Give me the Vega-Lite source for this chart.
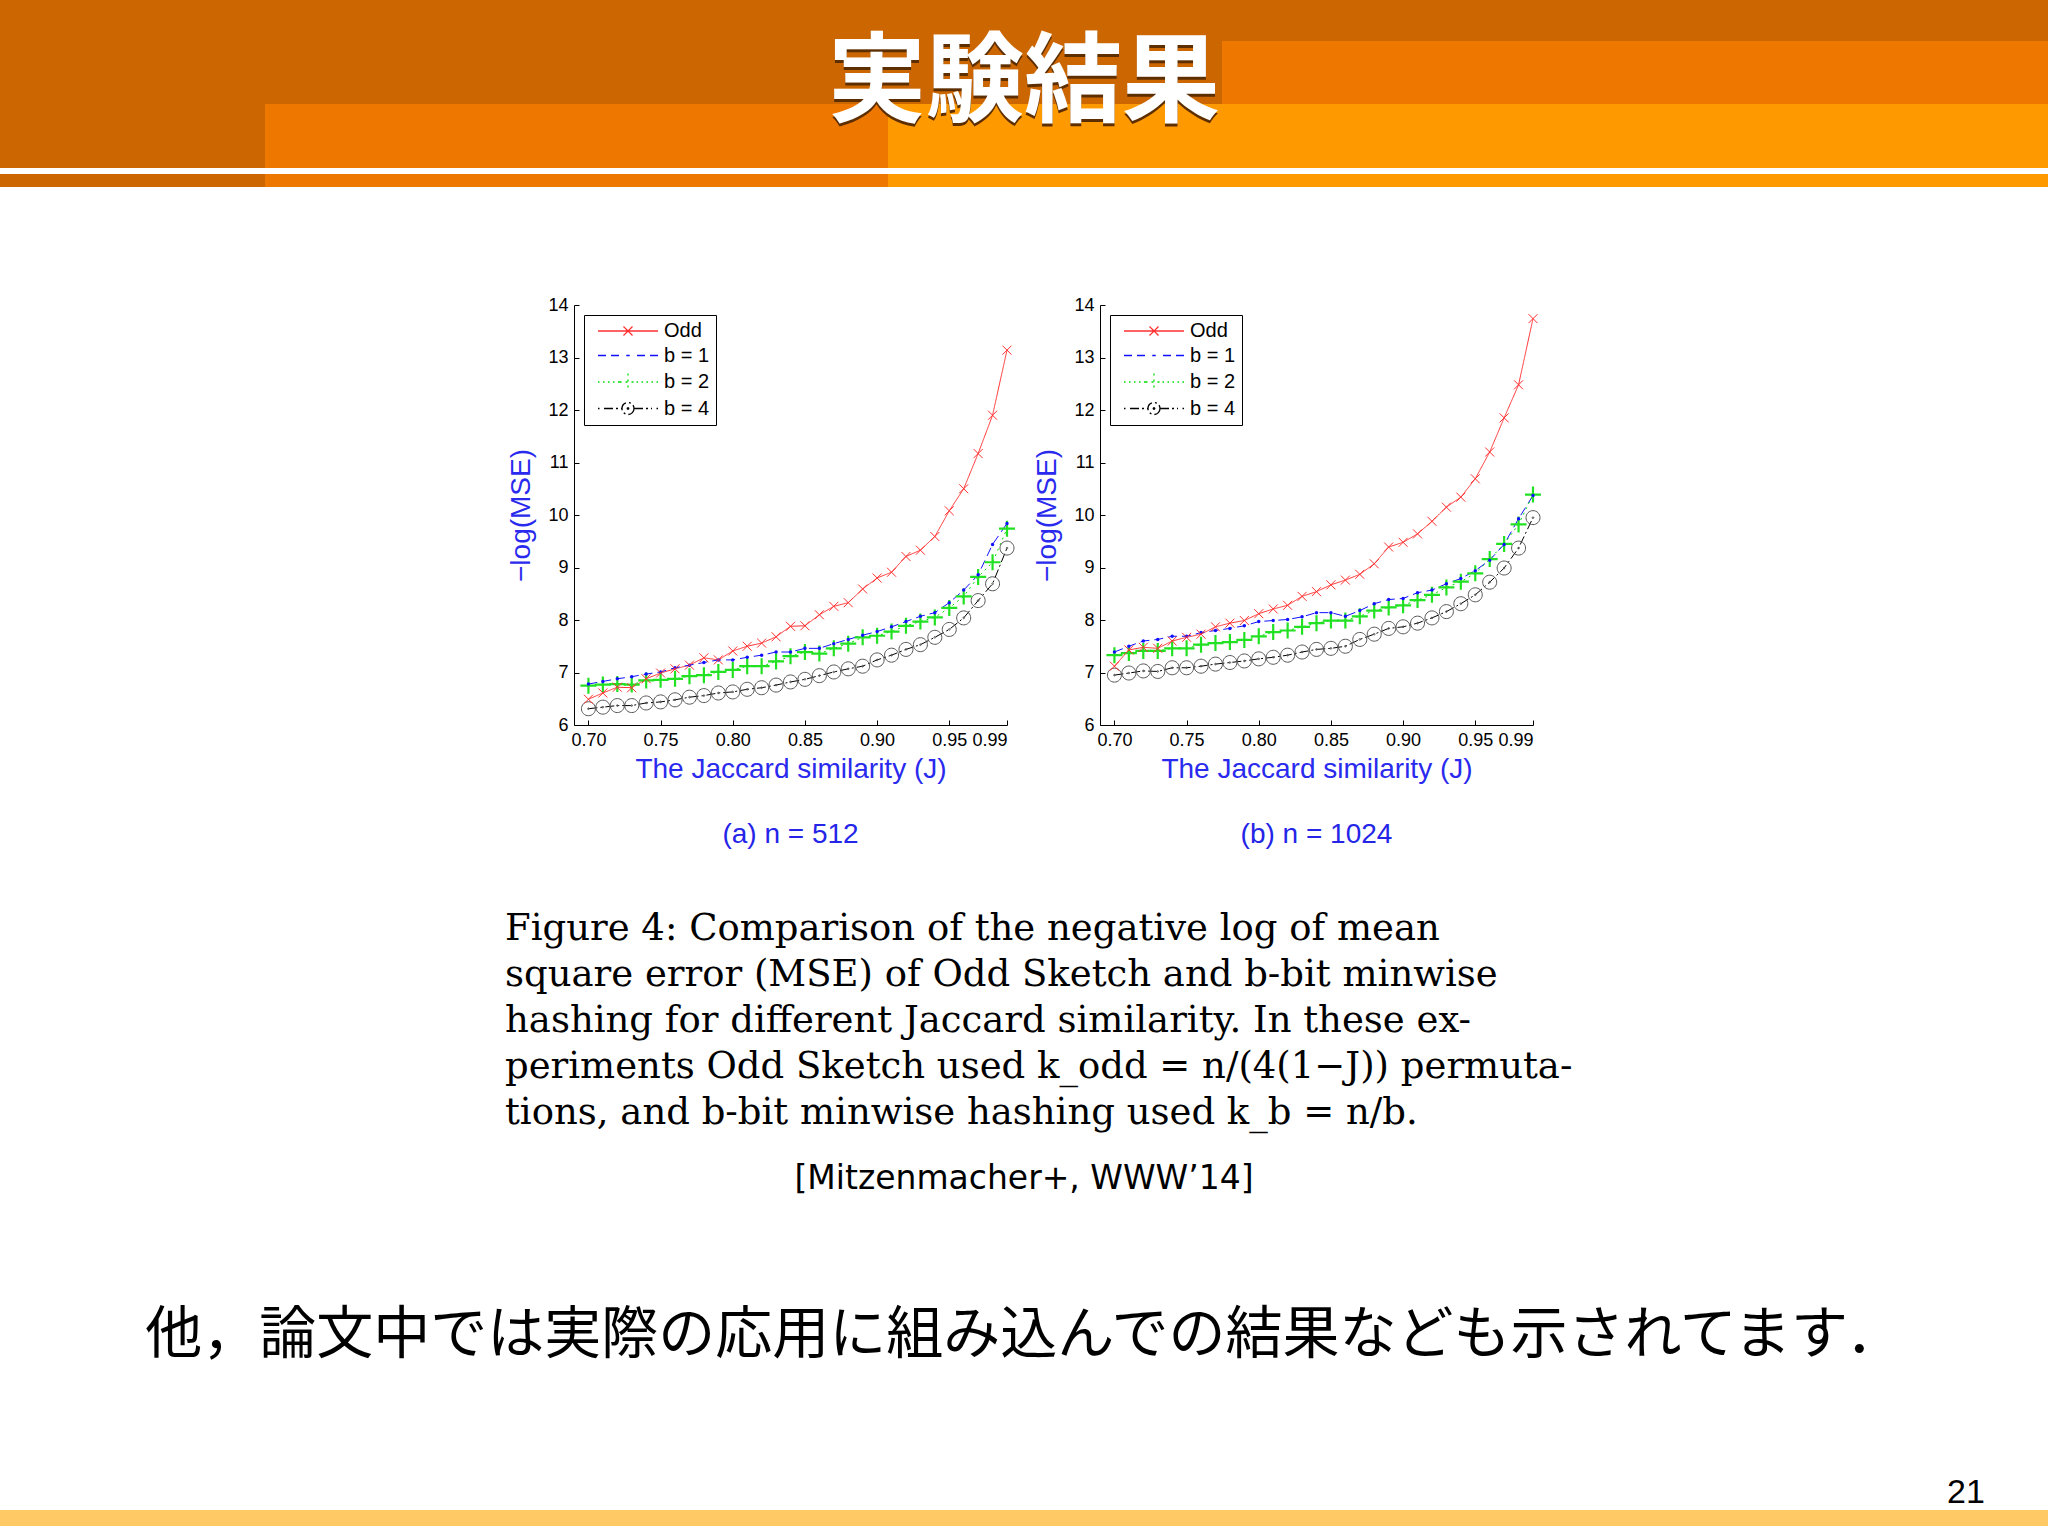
{
  "$schema": "https://vega.github.io/schema/vega-lite/v6.json",
  "background": "white",
  "padding": 0,
  "title": {"text": "実験結果", "subtitle": "実験結果", "anchor": "middle", "frame": "bounds", "orient": "top", "offset": -141, "baseline": "top", "font": "Noto Sans CJK JP", "fontSize": 98, "fontWeight": "bold", "color": "#5C2E00", "subtitleFont": "Noto Sans CJK JP", "subtitleFontSize": 98, "subtitleFontWeight": "bold", "subtitleColor": "#FFFFFF", "subtitlePadding": -101},
  "datasets": {
    "a": [
      {"J":0.70,"Odd":6.49,"b = 1":6.78,"b = 2":6.75,"b = 4":6.31},
      {"J":0.71,"Odd":6.61,"b = 1":6.83,"b = 2":6.77,"b = 4":6.34},
      {"J":0.72,"Odd":6.72,"b = 1":6.88,"b = 2":6.78,"b = 4":6.37},
      {"J":0.73,"Odd":6.71,"b = 1":6.92,"b = 2":6.77,"b = 4":6.37},
      {"J":0.74,"Odd":6.88,"b = 1":6.97,"b = 2":6.85,"b = 4":6.42},
      {"J":0.75,"Odd":6.99,"b = 1":7.01,"b = 2":6.86,"b = 4":6.44},
      {"J":0.76,"Odd":7.07,"b = 1":7.09,"b = 2":6.88,"b = 4":6.48},
      {"J":0.77,"Odd":7.14,"b = 1":7.14,"b = 2":6.93,"b = 4":6.53},
      {"J":0.78,"Odd":7.28,"b = 1":7.19,"b = 2":6.95,"b = 4":6.56},
      {"J":0.79,"Odd":7.24,"b = 1":7.24,"b = 2":7.01,"b = 4":6.61},
      {"J":0.80,"Odd":7.41,"b = 1":7.24,"b = 2":7.05,"b = 4":6.63},
      {"J":0.81,"Odd":7.50,"b = 1":7.29,"b = 2":7.12,"b = 4":6.68},
      {"J":0.82,"Odd":7.56,"b = 1":7.33,"b = 2":7.12,"b = 4":6.71},
      {"J":0.83,"Odd":7.68,"b = 1":7.39,"b = 2":7.21,"b = 4":6.76},
      {"J":0.84,"Odd":7.88,"b = 1":7.39,"b = 2":7.31,"b = 4":6.82},
      {"J":0.85,"Odd":7.89,"b = 1":7.46,"b = 2":7.39,"b = 4":6.87},
      {"J":0.86,"Odd":8.10,"b = 1":7.46,"b = 2":7.36,"b = 4":6.94},
      {"J":0.87,"Odd":8.26,"b = 1":7.55,"b = 2":7.46,"b = 4":7.01},
      {"J":0.88,"Odd":8.33,"b = 1":7.63,"b = 2":7.55,"b = 4":7.07},
      {"J":0.89,"Odd":8.59,"b = 1":7.71,"b = 2":7.67,"b = 4":7.12},
      {"J":0.90,"Odd":8.80,"b = 1":7.78,"b = 2":7.70,"b = 4":7.24},
      {"J":0.91,"Odd":8.91,"b = 1":7.87,"b = 2":7.78,"b = 4":7.33},
      {"J":0.92,"Odd":9.21,"b = 1":7.97,"b = 2":7.89,"b = 4":7.44},
      {"J":0.93,"Odd":9.33,"b = 1":8.07,"b = 2":7.97,"b = 4":7.53},
      {"J":0.94,"Odd":9.59,"b = 1":8.14,"b = 2":8.05,"b = 4":7.67},
      {"J":0.95,"Odd":10.08,"b = 1":8.33,"b = 2":8.23,"b = 4":7.82},
      {"J":0.96,"Odd":10.50,"b = 1":8.57,"b = 2":8.45,"b = 4":8.04},
      {"J":0.97,"Odd":11.17,"b = 1":8.86,"b = 2":8.82,"b = 4":8.37},
      {"J":0.98,"Odd":11.90,"b = 1":9.44,"b = 2":9.10,"b = 4":8.69},
      {"J":0.99,"Odd":13.14,"b = 1":9.84,"b = 2":9.74,"b = 4":9.37}
    ],
    "b": [
      {"J":0.70,"Odd":7.12,"b = 1":7.39,"b = 2":7.33,"b = 4":6.95},
      {"J":0.71,"Odd":7.43,"b = 1":7.50,"b = 2":7.37,"b = 4":6.99},
      {"J":0.72,"Odd":7.48,"b = 1":7.60,"b = 2":7.41,"b = 4":7.03},
      {"J":0.73,"Odd":7.46,"b = 1":7.63,"b = 2":7.41,"b = 4":7.02},
      {"J":0.74,"Odd":7.60,"b = 1":7.69,"b = 2":7.46,"b = 4":7.09},
      {"J":0.75,"Odd":7.67,"b = 1":7.69,"b = 2":7.46,"b = 4":7.09},
      {"J":0.76,"Odd":7.73,"b = 1":7.76,"b = 2":7.53,"b = 4":7.12},
      {"J":0.77,"Odd":7.87,"b = 1":7.80,"b = 2":7.56,"b = 4":7.16},
      {"J":0.78,"Odd":7.94,"b = 1":7.84,"b = 2":7.58,"b = 4":7.19},
      {"J":0.79,"Odd":7.99,"b = 1":7.89,"b = 2":7.62,"b = 4":7.22},
      {"J":0.80,"Odd":8.12,"b = 1":7.97,"b = 2":7.69,"b = 4":7.26},
      {"J":0.81,"Odd":8.21,"b = 1":7.99,"b = 2":7.77,"b = 4":7.29},
      {"J":0.82,"Odd":8.28,"b = 1":8.01,"b = 2":7.80,"b = 4":7.33},
      {"J":0.83,"Odd":8.45,"b = 1":8.06,"b = 2":7.87,"b = 4":7.39},
      {"J":0.84,"Odd":8.54,"b = 1":8.14,"b = 2":7.94,"b = 4":7.44},
      {"J":0.85,"Odd":8.67,"b = 1":8.14,"b = 2":7.99,"b = 4":7.46},
      {"J":0.86,"Odd":8.76,"b = 1":8.07,"b = 2":7.99,"b = 4":7.50},
      {"J":0.87,"Odd":8.87,"b = 1":8.18,"b = 2":8.07,"b = 4":7.63},
      {"J":0.88,"Odd":9.07,"b = 1":8.31,"b = 2":8.18,"b = 4":7.73},
      {"J":0.89,"Odd":9.39,"b = 1":8.39,"b = 2":8.24,"b = 4":7.84},
      {"J":0.90,"Odd":9.48,"b = 1":8.41,"b = 2":8.28,"b = 4":7.87},
      {"J":0.91,"Odd":9.64,"b = 1":8.52,"b = 2":8.38,"b = 4":7.94},
      {"J":0.92,"Odd":9.88,"b = 1":8.57,"b = 2":8.48,"b = 4":8.04},
      {"J":0.93,"Odd":10.15,"b = 1":8.69,"b = 2":8.62,"b = 4":8.16},
      {"J":0.94,"Odd":10.34,"b = 1":8.79,"b = 2":8.73,"b = 4":8.31},
      {"J":0.95,"Odd":10.69,"b = 1":8.94,"b = 2":8.89,"b = 4":8.48},
      {"J":0.96,"Odd":11.20,"b = 1":9.14,"b = 2":9.16,"b = 4":8.72},
      {"J":0.97,"Odd":11.85,"b = 1":9.44,"b = 2":9.45,"b = 4":8.99},
      {"J":0.98,"Odd":12.48,"b = 1":9.93,"b = 2":9.82,"b = 4":9.37},
      {"J":0.99,"Odd":13.74,"b = 1":10.37,"b = 2":10.39,"b = 4":9.95}
    ]
  },
  "vconcat": [
    {"width": 2048, "height": 41, "data": {"values": [{}]}, "mark": {"type": "rect", "fill": "#CC6600"}},
    {"width": 2048, "height": 63, "data": {"values": [{}]}, "mark": {"type": "rect", "fill": {"gradient": "linear", "x1": 0, "y1": 0, "x2": 1, "y2": 0, "stops": [{"offset": 0, "color": "#CC6600"}, {"offset": 0.5967, "color": "#CC6600"}, {"offset": 0.5967, "color": "#EE7700"}, {"offset": 1, "color": "#EE7700"}]}}},
    {"width": 2048, "height": 64, "data": {"values": [{}]}, "mark": {"type": "rect", "fill": {"gradient": "linear", "x1": 0, "y1": 0, "x2": 1, "y2": 0, "stops": [{"offset": 0, "color": "#CC6600"}, {"offset": 0.1294, "color": "#CC6600"}, {"offset": 0.1294, "color": "#EE7700"}, {"offset": 0.4336, "color": "#EE7700"}, {"offset": 0.4336, "color": "#FF9900"}, {"offset": 1, "color": "#FF9900"}]}}},
    {"width": 2048, "height": 6, "data": {"values": [{}]}, "mark": {"type": "rect", "fill": "#FFFFFF"}},
    {"width": 2048, "height": 13, "data": {"values": [{}]}, "mark": {"type": "rect", "fill": {"gradient": "linear", "x1": 0, "y1": 0, "x2": 1, "y2": 0, "stops": [{"offset": 0, "color": "#CC6600"}, {"offset": 0.1294, "color": "#CC6600"}, {"offset": 0.1294, "color": "#EE7700"}, {"offset": 0.4336, "color": "#EE7700"}, {"offset": 0.4336, "color": "#FF9900"}, {"offset": 1, "color": "#FF9900"}]}}},
    {"width": 2048, "height": 109, "data": {"values": [{}]}, "mark": {"type": "text", "text": ""}},
    {
      "hconcat": [
        {"width": 481, "height": 420, "data": {"values": [{}]}, "mark": {"type": "text", "text": ""}},
        {
          "width": 433, "height": 420,
          "data": {"name": "a"},
          "transform": [{"fold": ["Odd", "b = 1", "b = 2", "b = 4"], "as": ["s", "v"]}],
          "title": {"text": "(a) n = 512", "orient": "bottom", "anchor": "middle", "frame": "group", "offset": 38, "baseline": "top", "font": "Liberation Sans", "fontSize": 28, "fontWeight": "normal", "color": "#2525E8"},
          "encoding": {
            "x": {"field": "J", "type": "quantitative", "scale": {"domain": [0.69, 0.99], "nice": false, "zero": false}, "axis": {"values": [0.70, 0.75, 0.80, 0.85, 0.90, 0.95, 0.99], "format": ".2f", "title": "The Jaccard similarity (J)"}},
            "y": {"field": "v", "type": "quantitative", "scale": {"domain": [6, 14], "nice": false, "zero": false}, "axis": {"values": [6, 7, 8, 9, 10, 11, 12, 13, 14], "title": "−log(MSE)"}}
          },
          "layer": [
            {"mark": {"type": "point", "filled": false, "opacity": 0},
             "encoding": {
               "color": {"field": "s", "type": "nominal", "scale": {"domain": ["Odd", "b = 1", "b = 2", "b = 4"], "range": ["#FF3030", "#1010FF", "#00DD00", "#000000"]}, "legend": {"title": null, "orient": "top-left", "offset": 10, "padding": 6, "strokeColor": "black", "fillColor": "white", "labelFont": "Liberation Sans", "labelFontSize": 20, "labelColor": "black", "symbolSize": 100, "symbolStrokeWidth": 1.3, "symbolOffset": 28, "labelOffset": 26, "rowPadding": 4.5, "symbolOpacity": 1}},
               "shape": {"field": "s", "type": "nominal", "scale": {"domain": ["Odd", "b = 1", "b = 2", "b = 4"], "range": ["M-6,0L6,0M-0.9,-0.9L0.9,0.9M-0.9,0.9L0.9,-0.9", "M-6,0L-4.4,0M-3.4,0L-1.8,0M-0.35,0L0.35,0M1.8,0L3.4,0M4.4,0L6,0", "M-6,0L-5.7,0M-5,0L-4.7,0M-4,0L-3.7,0M-3,0L-2.7,0M-2,0L-1.7,0M1.7,0L2,0M2.7,0L3,0M3.7,0L4,0M4.7,0L5,0M5.7,0L6,0M-1.7,0L1.7,0M0,-1.7L0,1.7", "M-6,0L-5.7,0M-4.8,0L-1.2,0M1.2,0L4.8,0M5.7,0L6,0M1.2,0A1.2,1.2,0,1,1,-1.2,0A1.2,1.2,0,1,1,1.2,0M0.15,0A0.15,0.15,0,1,1,-0.15,0A0.15,0.15,0,1,1,0.15,0"]}, "legend": {"title": null, "orient": "top-left", "offset": 10, "padding": 6, "strokeColor": "black", "fillColor": "white", "labelFont": "Liberation Sans", "labelFontSize": 20, "labelColor": "black", "symbolSize": 100, "symbolStrokeWidth": 1.3, "symbolOffset": 28, "labelOffset": 26, "rowPadding": 4.5, "symbolOpacity": 1}}
             }},
            {"mark": {"type": "line", "strokeWidth": 1}, "encoding": {"color": {"field": "s", "type": "nominal", "scale": {"domain": ["Odd", "b = 1", "b = 2", "b = 4"], "range": ["#FF3030", "#1010FF", "#00DD00", "#000000"]}, "legend": null}, "strokeDash": {"field": "s", "type": "nominal", "scale": {"domain": ["Odd", "b = 1", "b = 2", "b = 4"], "range": [[1, 0], [9, 5], [2, 4], [9, 3, 2, 3]]}, "legend": null}}},
            {"transform": [{"filter": "datum.s === 'b = 4'"}], "mark": {"type": "point", "shape": "M1,0A1,1,0,1,1,-1,0A1,1,0,1,1,1,0M0.12,0A0.12,0.12,0,1,1,-0.12,0A0.12,0.12,0,1,1,0.12,0", "size": 196, "filled": false, "color": "#555555", "strokeWidth": 1, "opacity": 1}},
            {"transform": [{"filter": "datum.s === 'b = 2'"}], "mark": {"type": "point", "shape": "M-1,0L1,0M0,-1L0,1", "size": 256, "filled": false, "color": "#22E022", "strokeWidth": 2.2, "opacity": 1}},
            {"transform": [{"filter": "datum.s === 'b = 1'"}], "mark": {"type": "point", "shape": "circle", "size": 12, "filled": true, "color": "#1010FF", "opacity": 1}},
            {"transform": [{"filter": "datum.s === 'Odd'"}], "mark": {"type": "point", "shape": "M-1,-1L1,1M-1,1L1,-1", "size": 81, "filled": false, "color": "#FF3030", "strokeWidth": 1, "opacity": 1}}
          ]
        },
        {
          "width": 433, "height": 420,
          "data": {"name": "b"},
          "transform": [{"fold": ["Odd", "b = 1", "b = 2", "b = 4"], "as": ["s", "v"]}],
          "title": {"text": "(b) n = 1024", "orient": "bottom", "anchor": "middle", "frame": "group", "offset": 38, "baseline": "top", "font": "Liberation Sans", "fontSize": 28, "fontWeight": "normal", "color": "#2525E8"},
          "encoding": {
            "x": {"field": "J", "type": "quantitative", "scale": {"domain": [0.69, 0.99], "nice": false, "zero": false}, "axis": {"values": [0.70, 0.75, 0.80, 0.85, 0.90, 0.95, 0.99], "format": ".2f", "title": "The Jaccard similarity (J)"}},
            "y": {"field": "v", "type": "quantitative", "scale": {"domain": [6, 14], "nice": false, "zero": false}, "axis": {"values": [6, 7, 8, 9, 10, 11, 12, 13, 14], "title": "−log(MSE)"}}
          },
          "layer": [
            {"mark": {"type": "point", "filled": false, "opacity": 0},
             "encoding": {
               "color": {"field": "s", "type": "nominal", "scale": {"domain": ["Odd", "b = 1", "b = 2", "b = 4"], "range": ["#FF3030", "#1010FF", "#00DD00", "#000000"]}, "legend": {"title": null, "orient": "top-left", "offset": 10, "padding": 6, "strokeColor": "black", "fillColor": "white", "labelFont": "Liberation Sans", "labelFontSize": 20, "labelColor": "black", "symbolSize": 100, "symbolStrokeWidth": 1.3, "symbolOffset": 28, "labelOffset": 26, "rowPadding": 4.5, "symbolOpacity": 1}},
               "shape": {"field": "s", "type": "nominal", "scale": {"domain": ["Odd", "b = 1", "b = 2", "b = 4"], "range": ["M-6,0L6,0M-0.9,-0.9L0.9,0.9M-0.9,0.9L0.9,-0.9", "M-6,0L-4.4,0M-3.4,0L-1.8,0M-0.35,0L0.35,0M1.8,0L3.4,0M4.4,0L6,0", "M-6,0L-5.7,0M-5,0L-4.7,0M-4,0L-3.7,0M-3,0L-2.7,0M-2,0L-1.7,0M1.7,0L2,0M2.7,0L3,0M3.7,0L4,0M4.7,0L5,0M5.7,0L6,0M-1.7,0L1.7,0M0,-1.7L0,1.7", "M-6,0L-5.7,0M-4.8,0L-1.2,0M1.2,0L4.8,0M5.7,0L6,0M1.2,0A1.2,1.2,0,1,1,-1.2,0A1.2,1.2,0,1,1,1.2,0M0.15,0A0.15,0.15,0,1,1,-0.15,0A0.15,0.15,0,1,1,0.15,0"]}, "legend": {"title": null, "orient": "top-left", "offset": 10, "padding": 6, "strokeColor": "black", "fillColor": "white", "labelFont": "Liberation Sans", "labelFontSize": 20, "labelColor": "black", "symbolSize": 100, "symbolStrokeWidth": 1.3, "symbolOffset": 28, "labelOffset": 26, "rowPadding": 4.5, "symbolOpacity": 1}}
             }},
            {"mark": {"type": "line", "strokeWidth": 1}, "encoding": {"color": {"field": "s", "type": "nominal", "scale": {"domain": ["Odd", "b = 1", "b = 2", "b = 4"], "range": ["#FF3030", "#1010FF", "#00DD00", "#000000"]}, "legend": null}, "strokeDash": {"field": "s", "type": "nominal", "scale": {"domain": ["Odd", "b = 1", "b = 2", "b = 4"], "range": [[1, 0], [9, 5], [2, 4], [9, 3, 2, 3]]}, "legend": null}}},
            {"transform": [{"filter": "datum.s === 'b = 4'"}], "mark": {"type": "point", "shape": "M1,0A1,1,0,1,1,-1,0A1,1,0,1,1,1,0M0.12,0A0.12,0.12,0,1,1,-0.12,0A0.12,0.12,0,1,1,0.12,0", "size": 196, "filled": false, "color": "#555555", "strokeWidth": 1, "opacity": 1}},
            {"transform": [{"filter": "datum.s === 'b = 2'"}], "mark": {"type": "point", "shape": "M-1,0L1,0M0,-1L0,1", "size": 256, "filled": false, "color": "#22E022", "strokeWidth": 2.2, "opacity": 1}},
            {"transform": [{"filter": "datum.s === 'b = 1'"}], "mark": {"type": "point", "shape": "circle", "size": 12, "filled": true, "color": "#1010FF", "opacity": 1}},
            {"transform": [{"filter": "datum.s === 'Odd'"}], "mark": {"type": "point", "shape": "M-1,-1L1,1M-1,1L1,-1", "size": 81, "filled": false, "color": "#FF3030", "strokeWidth": 1, "opacity": 1}}
          ]
        }
      ],
      "spacing": 93,
      "bounds": "flush",
      "resolve": {"scale": {"color": "independent", "shape": "independent", "strokeDash": "independent"}, "legend": {"color": "independent", "shape": "independent", "strokeDash": "independent"}}
    },
    {
      "hconcat": [
        {"width": 505, "height": 62, "data": {"values": [{}]}, "mark": {"type": "text", "text": ""}},
        {"width": 1047, "height": 62, "data": {"values": [{}]}, "mark": {"type": "text", "text": ""},
         "title": {"text": ["Figure 4:  Comparison of the negative log of mean", "square error (MSE) of Odd Sketch and b-bit minwise", "hashing for different Jaccard similarity. In these ex-", "periments Odd Sketch used k_odd = n/(4(1−J)) permuta-", "tions, and b-bit minwise hashing used k_b = n/b."], "orient": "bottom", "anchor": "start", "frame": "group", "align": "left", "baseline": "top", "offset": 0, "font": "DejaVu Serif", "fontSize": 37, "fontWeight": "normal", "color": "#000000", "lineHeight": 46}}
      ],
      "spacing": 0,
      "bounds": "flush"
    },
    {"width": 2048, "height": 95, "data": {"values": [{}]}, "mark": {"type": "text", "text": "[Mitzenmacher+, WWW’14]", "font": "DejaVu Sans", "fontSize": 33, "align": "center", "baseline": "middle", "color": "#000000"}},
    {"width": 2048, "height": 219, "data": {"values": [{}]}, "mark": {"type": "text", "text": "他，論文中では実際の応用に組み込んでの結果なども示されてます．", "font": "Noto Sans CJK JP", "fontSize": 57, "align": "center", "baseline": "middle", "color": "#000000"}},
    {
      "hconcat": [
        {"width": 1940, "height": 62, "data": {"values": [{}]}, "mark": {"type": "text", "text": ""}},
        {"width": 52, "height": 62, "data": {"values": [{}]}, "mark": {"type": "text", "text": "21", "font": "Liberation Sans", "fontSize": 34, "align": "center", "baseline": "top", "color": "#000000"}}
      ],
      "spacing": 0,
      "bounds": "flush"
    },
    {"width": 2048, "height": 16, "data": {"values": [{}]}, "mark": {"type": "rect", "fill": "#FFC966"}}
  ],
  "spacing": 0,
  "resolve": {"legend": {"color": "independent", "shape": "independent", "strokeDash": "independent"}},
  "config": {
    "view": {"stroke": null},
    "axis": {"grid": false, "domainColor": "#000000", "domainWidth": 1, "tickColor": "#000000", "tickSize": -5, "labelPadding": 11, "labelOverlap": false, "labelFont": "Liberation Sans", "labelFontSize": 18, "labelColor": "#000000", "titleFont": "Liberation Sans", "titleFontSize": 28, "titleFontWeight": "normal", "titleColor": "#2A2AEE"},
    "axisX": {"titlePadding": 6},
    "axisY": {"titlePadding": 12}
  }
}
